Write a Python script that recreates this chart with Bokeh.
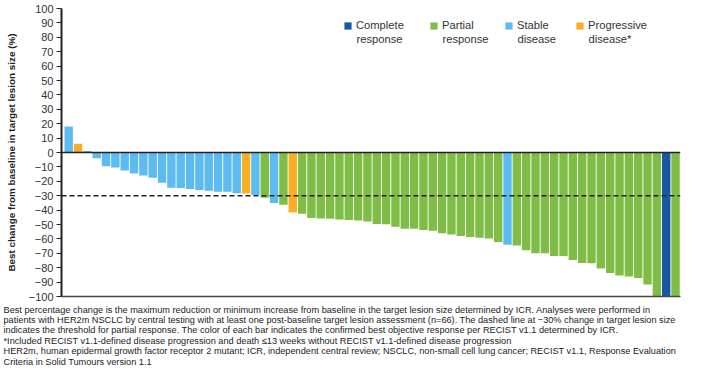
from bokeh.plotting import figure
from bokeh.models import Range1d, Span, FixedTicker, Title, Legend, LegendItem, ColumnDataSource, Label
from bokeh.embed import file_html
from bokeh.resources import INLINE

# ---- data ----
patients = list(range(1, 67))
best_change = [18, 6, 1, -4, -9.5, -10.5, -12.5, -14.5, -16, -17.5,
               -21, -24.5, -24.7, -25.3, -26, -26.5, -27.2, -27.3, -28.3, -28.5,
               -29.5, -31.5, -35, -36.2, -41.6, -42.6, -45.4, -45.9, -46, -46.6,
               -46.8, -47.3, -48, -49.7, -49.8, -51.5, -52.9, -53, -53.8, -54.3,
               -56, -57, -58, -58.7, -59.2, -59.8, -62.2, -64, -64.6, -67.8,
               -69.9, -70, -71.8, -71.9, -74.6, -76.8, -76.9, -80.6, -83.7, -85.5,
               -86.1, -87.1, -91.6, -100, -100, -100]
response = ["SD", "PD", "SD", "SD", "SD", "SD", "SD", "SD", "SD", "SD",
            "SD", "SD", "SD", "SD", "SD", "SD", "SD", "SD", "SD", "PD",
            "SD", "PR", "SD", "PR", "PD", "PR", "PR", "PR", "PR", "PR",
            "PR", "PR", "PR", "PR", "PR", "PR", "PR", "PR", "PR", "PR",
            "PR", "PR", "PR", "PR", "PR", "PR", "PR", "SD", "PR", "PR",
            "PR", "PR", "PR", "PR", "PR", "PR", "PR", "PR", "PR", "PR",
            "PR", "PR", "PR", "PR", "CR", "PR"]
categories = ["CR", "PR", "SD", "PD"]
category_line1 = ["Complete", "Partial", "Stable", "Progressive"]
category_line2 = ["response", "response", "disease", "disease*"]
category_colors = {"CR": "#17599F", "PR": "#80BD47", "SD": "#5CBBF0", "PD": "#F8AF22"}
threshold = -30
y_ticks = [100, 90, 80, 70, 60, 50, 40, 30, 20, 10, 0, -10, -20, -30, -40, -50, -60, -70, -80, -90, -100]
y_tick_labels = ["100", "90", "80", "70", "60", "50", "40", "30", "20", "10", "0",
                 "\u221210", "\u221220", "\u221230", "\u221240", "\u221250", "\u221260",
                 "\u221270", "\u221280", "\u221290", "\u2212100"]
y_label = "Best change from baseline in target lesion size (%)"
footnote = ("Best percentage change is the maximum reduction or minimum increase from baseline in the target lesion size determined by ICR. Analyses were performed in\n"
            "patients with HER2m NSCLC by central testing with at least one post-baseline target lesion assessment (n=66). The dashed line at \u221230% change in target lesion size\n"
            "indicates the threshold for partial response. The color of each bar indicates the confirmed best objective response per RECIST v1.1 determined by ICR.\n"
            "*Included RECIST v1.1-defined disease progression and death \u226413 weeks without RECIST v1.1-defined disease progression\n"
            "HER2m, human epidermal growth factor receptor 2 mutant; ICR, independent central review; NSCLC, non-small cell lung cancer; RECIST v1.1, Response Evaluation\n"
            "Criteria in Solid Tumours version 1.1")

FONT = "Liberation Sans"

src = ColumnDataSource(dict(
    patient=patients,
    change=best_change,
    color=[category_colors[r] for r in response],
))

p = figure(frame_width=619, frame_height=288, output_backend="svg", toolbar_location=None,
           x_range=Range1d(0.23, 66.53), y_range=Range1d(-100, 100),
           min_border_left=61, min_border_right=29, min_border_top=8, min_border_bottom=0)
p.outline_line_color = None
p.grid.visible = False
p.background_fill_color = "white"
p.border_fill_color = "white"

bars = p.vbar(x="patient", top="change", bottom=0, width=0.9, fill_color="color",
              line_color=None, source=src)

p.add_layout(Span(location=0, dimension="width", line_color="#222222", line_width=1.5))
p.add_layout(Span(location=threshold, dimension="width", line_color="#222222",
                  line_width=1.5, line_dash="5 3"))

# y axis
ya = p.yaxis[0]
ya.ticker = FixedTicker(ticks=y_ticks)
ya.major_label_overrides = {t: l for t, l in zip(y_ticks, y_tick_labels)}
ya.minor_tick_line_color = None
ya.major_tick_in = 0
ya.major_tick_out = 5
ya.major_tick_line_color = "#222222"
ya.major_tick_line_width = 1.2
ya.axis_line_color = "#222222"
ya.axis_line_width = 2
ya.major_label_text_font = FONT
ya.major_label_text_font_size = "11px"
ya.major_label_text_color = "#333333"
ya.major_label_standoff = 3
ya.axis_label = y_label
ya.axis_label_text_font = FONT
ya.axis_label_text_font_size = "9.9px"
ya.axis_label_text_font_style = "bold"
ya.axis_label_text_color = "#222222"
ya.axis_label_standoff = 9

# x axis: line only
xa = p.xaxis[0]
xa.ticker = FixedTicker(ticks=[])
xa.major_tick_line_color = None
xa.minor_tick_line_color = None
xa.major_label_standoff = 0
xa.axis_line_color = "#444444"
xa.axis_line_width = 1.5

# legends (one per category, positioned individually)
legend_index = {c: response.index(c) for c in categories}
legend_x = [282, 368, 443, 514]
for cat, l1, l2, lx in zip(categories, category_line1, category_line2, legend_x):
    lg = Legend(items=[LegendItem(label=l1, renderers=[bars], index=legend_index[cat])],
                location=(lx, 265), padding=0, margin=0, border_line_color=None,
                background_fill_alpha=0, glyph_width=9, glyph_height=9, label_standoff=4,
                label_height=12, spacing=0,
                label_text_font=FONT, label_text_font_size="11.2px", label_text_color="#333333")
    p.add_layout(lg)
    p.add_layout(Label(x=lx + 13, y=258, x_units="screen", y_units="screen", text=l2,
                       text_font=FONT, text_font_size="11.2px", text_color="#333333",
                       text_baseline="middle", text_align="left"))

p.add_layout(Title(text=footnote, align="left", text_font=FONT, text_font_size="9.2px",
                   text_font_style="normal", text_color="#222222", text_line_height=1.04,
                   offset=-58, standoff=12), "below")

open("out.html", "w").write(file_html(p, INLINE))
